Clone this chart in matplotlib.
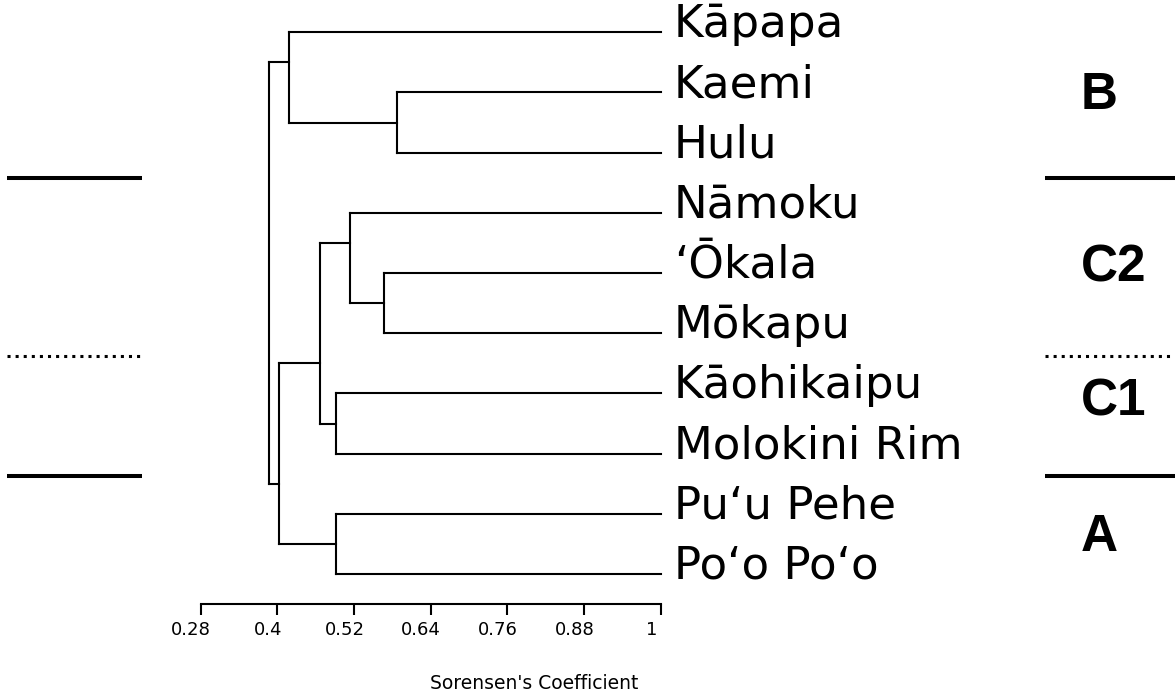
import matplotlib.pyplot as plt
import matplotlib.transforms as mtransforms
from matplotlib.lines import Line2D

plt.rcParams["font.family"] = ["DejaVu Sans"]

# leaves, top to bottom
leaves = ["Kāpapa", "Kaemi", "Hulu", "Nāmoku", "‘Ōkala", "Mōkapu",
          "Kāohikaipu", "Molokini Rim", "Pu‘u Pehe", "Po‘o Po‘o"]

# merges: children (leaf index or 10 + merge index), similarity level
merge_left = [1, 0, 4, 3, 6, 13, 8, 15, 11]
merge_right = [2, 10, 5, 12, 7, 14, 9, 16, 17]
merge_height = [0.587, 0.418, 0.567, 0.514, 0.491, 0.466, 0.491, 0.403, 0.387]
# where the stem joins the vertical bar (0 = upper child, 1 = lower child)
merge_joint = [0.5, 1 / 3, 0.5, 1 / 3, 0.5, 2 / 3, 0.5, 2 / 3, 0.5]

ticks = [0.28, 0.4, 0.52, 0.64, 0.76, 0.88, 1]
tick_labels = ["0.28", "0.4", "0.52", "0.64", "0.76", "0.88", "1"]

groups = ["B", "C2", "C1", "A"]

W, H = 1175, 694
fig = plt.figure(figsize=(W / 100, H / 100), dpi=100)
ax = fig.add_axes([200.7 / W, 1 - 604 / H, 460 / W, 604 / H])

n = len(leaves)
ypos = {i: i for i in range(n)}
xpos = {i: 1.0 for i in range(n)}
lw = 1.5
for k, (a, b, h, f) in enumerate(zip(merge_left, merge_right, merge_height, merge_joint)):
    ya, yb = ypos[a], ypos[b]
    ax.plot([h, h], [ya, yb], color="black", lw=lw, clip_on=False,
            solid_capstyle="projecting")
    ax.plot([h, xpos[a]], [ya, ya], color="black", lw=lw, clip_on=False,
            solid_capstyle="projecting")
    ax.plot([h, xpos[b]], [yb, yb], color="black", lw=lw, clip_on=False,
            solid_capstyle="projecting")
    ypos[n + k] = ya + f * (yb - ya)
    xpos[n + k] = h

for i, name in enumerate(leaves):
    ax.annotate(name, (1.0, i), xytext=(9.5, -3.4), textcoords="offset points",
                ha="left", va="baseline", fontsize=32.5, annotation_clip=False)

ax.set_xlim(0.28, 1)
ax.set_ylim((604 - 32.3) / 60.2, -32.3 / 60.2)
for s in ["top", "right", "left"]:
    ax.spines[s].set_visible(False)
ax.spines["bottom"].set_linewidth(1.5)
ax.set_yticks([])
ax.set_xticks(ticks)
ax.set_xticklabels(tick_labels)
ax.tick_params(axis="x", direction="out", length=8, width=1.5, pad=4,
               labelsize=13)
shift = mtransforms.ScaledTranslation(-9.5 / 100, 0, fig.dpi_scale_trans)
for lab in ax.get_xticklabels():
    lab.set_transform(lab.get_transform() + shift)

fig.text(534 / W, 1 - 689 / H, "Sorensen's Coefficient", ha="center",
         va="baseline", fontsize=13.5)

# group separators
for x0, x1 in [(7, 142), (1045, 1175)]:
    for y, ls in [(177.5, "-"), (356, ":"), (476, "-")]:
        fig.add_artist(Line2D([x0 / W, x1 / W], [1 - y / H, 1 - y / H],
                              color="black", lw=2.9 if ls == "-" else 2.2,
                              linestyle=ls, dash_capstyle="butt",
                              solid_capstyle="butt"))

for g, y in zip(groups, [109.3, 281.7, 416, 551]):
    fig.text(1081 / W, 1 - y / H, g, ha="left", va="baseline", fontsize=37,
             fontweight="bold", family="Liberation Sans")

fig.savefig("out.png", dpi=100)
